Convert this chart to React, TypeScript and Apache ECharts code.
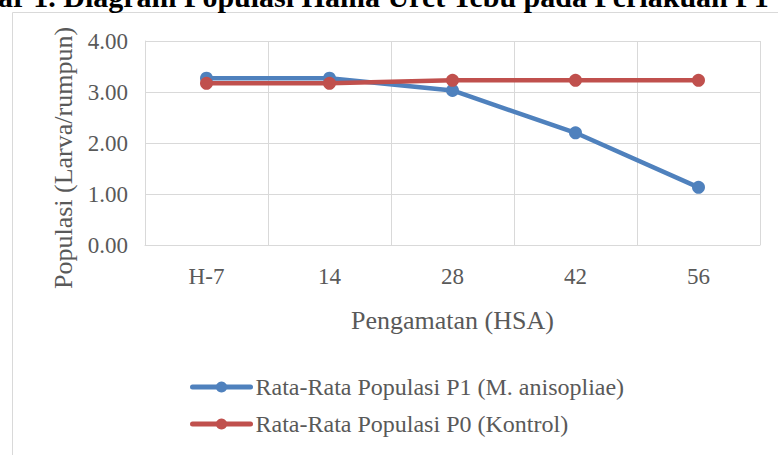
import React, { useEffect, useRef } from "react";
import * as echarts from "echarts";

const categories = ["H-7", "14", "28", "42", "56"];
const seriesP1 = [3.27, 3.27, 3.03, 2.2, 1.13];
const seriesP0 = [3.17, 3.17, 3.23, 3.23, 3.23];
const seriesNames = [
  "Rata-Rata Populasi P1 (M. anisopliae)",
  "Rata-Rata Populasi P0 (Kontrol)",
];
const titleText = "ar 1. Diagram Populasi Hama Uret Tebu pada Perlakuan P1";
const xName = "Pengamatan (HSA)";
const yName = "Populasi (Larva/rumpun)";

const FONT = "Liberation Serif";
const GRAY = "#595959";
const GRID = "#d9d9d9";

export default function App() {
  const ref = useRef<HTMLDivElement>(null);
  useEffect(() => {
    document.body.style.margin = "0";
    const chart = echarts.init(ref.current!, null, { renderer: "svg" });
    chart.setOption({
      animation: false,
      backgroundColor: "#ffffff",
      textStyle: { fontFamily: FONT },
      graphic: [
        {
          type: "rect",
          shape: { x: 12.5, y: 12.5, width: 820, height: 500 },
          style: { fill: "none", stroke: GRID, lineWidth: 1 },
          z: -10,
        },
        {
          type: "text",
          x: -2,
          y: -3.5,
          style: {
            text: titleText,
            fontFamily: FONT,
            fontSize: 30,
            fontWeight: "bold",
            fill: "#000000",
            verticalAlign: "middle",
            align: "left",
          },
        },
      ],
      grid: { left: 145, right: 18, top: 41, bottom: 210, containLabel: false },
      legend: {
        orient: "vertical",
        left: 190,
        top: 375,
        padding: 0,
        itemWidth: 58,
        itemHeight: 14,
        itemGap: 13,
        lineStyle: { width: 5, cap: "round" },
        textStyle: { fontFamily: FONT, fontSize: 24, color: GRAY },
        data: seriesNames,
      },
      xAxis: {
        type: "category",
        data: categories,
        boundaryGap: true,
        name: xName,
        nameLocation: "middle",
        nameGap: 62,
        nameTextStyle: { fontFamily: FONT, fontSize: 26, color: GRAY, verticalAlign: "top" },
        axisLine: { show: true, lineStyle: { color: GRID, width: 1 } },
        axisTick: { show: false },
        axisLabel: { fontFamily: FONT, fontSize: 23, color: GRAY, margin: 20 },
        splitLine: { show: true, lineStyle: { color: GRID, width: 1 } },
      },
      yAxis: {
        type: "value",
        min: 0,
        max: 4,
        interval: 1,
        name: yName,
        nameLocation: "middle",
        nameGap: 68,
        nameTextStyle: { fontFamily: FONT, fontSize: 26, color: GRAY, padding: [0, 0, 0, -30] },
        axisLine: { show: true, lineStyle: { color: GRID, width: 1 } },
        axisTick: { show: false },
        axisLabel: {
          fontFamily: FONT,
          fontSize: 23,
          color: GRAY,
          margin: 17,
          formatter: (v: number) => v.toFixed(2),
        },
        splitLine: { show: true, lineStyle: { color: GRID, width: 1 } },
      },
      series: [
        {
          name: seriesNames[0],
          type: "line",
          data: seriesP1,
          symbol: "circle",
          symbolSize: 13,
          itemStyle: { color: "#4F81BD" },
          lineStyle: { color: "#4F81BD", width: 4.5 },
          z: 3,
        },
        {
          name: seriesNames[1],
          type: "line",
          data: seriesP0,
          symbol: "circle",
          symbolSize: 13,
          itemStyle: { color: "#C0504D" },
          lineStyle: { color: "#C0504D", width: 4.5 },
          z: 4,
        },
      ],
    });
    return () => chart.dispose();
  }, []);
  return <div ref={ref} style={{ width: 778, height: 455 }} />;
}
